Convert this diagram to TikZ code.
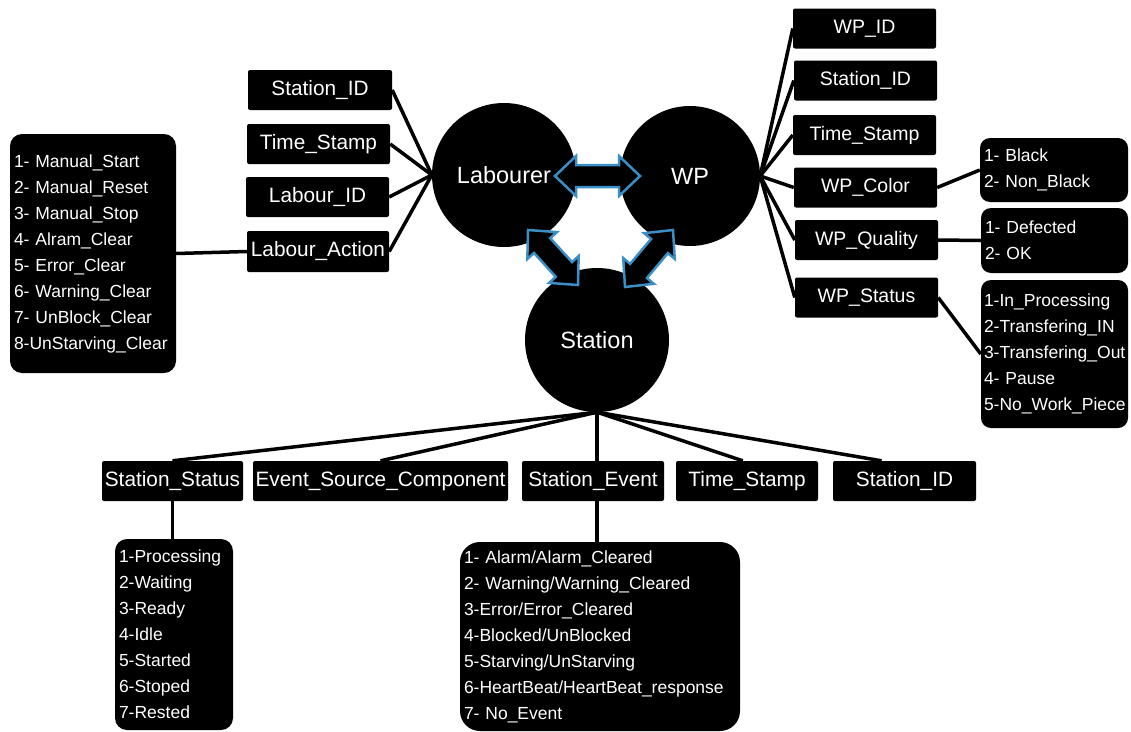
\documentclass[tikz,border=0pt]{standalone}
\usepackage{fontspec}
\setmainfont{Liberation Sans}
\usetikzlibrary{calc}
\definecolor{linkblue}{HTML}{3A8FC7}

% list text: fixed leading, no line breaks at hyphens
\newcommand{\listtext}{\fontsize{17.5}{26}\selectfont}
\newcommand{\keeplines}{\exhyphenpenalty=10000\relax\hyphenpenalty=10000\relax}

% two-way block arrow between two named points
\newcommand{\twoway}[2]{%
  \path[twowaystyle] (#1)
    -- ($(#1)!21pt!(#2)!20pt!90:(#2)$)
    -- ($(#1)!21pt!(#2)!11pt!90:(#2)$)
    -- ($(#2)!21pt!(#1)!11pt!-90:(#1)$)
    -- ($(#2)!21pt!(#1)!20pt!-90:(#1)$)
    -- (#2)
    -- ($(#2)!21pt!(#1)!20pt!90:(#1)$)
    -- ($(#2)!21pt!(#1)!11pt!90:(#1)$)
    -- ($(#1)!21pt!(#2)!11pt!-90:(#2)$)
    -- ($(#1)!21pt!(#2)!20pt!-90:(#2)$)
    -- cycle;}

\tikzset{
  attr/.style={fill=black, text=white, rounded corners=2pt, minimum height=40,
    inner sep=0pt, font=\fontsize{20.8}{23}\selectfont},
  wpattr/.style={attr, font=\fontsize{19.5}{22}\selectfont},
  valuelist/.style={fill=black, text=white, align=left, inner xsep=4, inner ysep=0,
    font=\listtext, execute at begin node=\keeplines},
  entity/.style={circle, fill=black, text=white, inner sep=0pt,
    font=\fontsize{23.5}{26}\selectfont},
  link/.style={line width=3.5pt, black},
  twowaystyle/.style={fill=black, draw=linkblue, line width=2.5pt, line join=miter}
}

\begin{document}
\begin{tikzpicture}[x=1pt, y=-1pt]
\useasboundingbox (0,0) rectangle (1131,731);

% entities
\node[entity, minimum size=144] (lab) at (504,175) {Labourer};
\node[entity, minimum size=140] (wp)  at (690,176) {WP};
\node[entity, minimum size=144] (sta) at (597,340) {Station};

% labourer attributes
\node[attr, minimum width=144] (lsid) at (320,90)    {Station\_ID};
\node[attr, minimum width=143] (lts)  at (318.5,144) {Time\_Stamp};
\node[attr, minimum width=143] (lid)  at (317.5,197) {Labour\_ID};
\node[attr, minimum width=142, minimum height=41] (lact) at (318,251.5) {Labour\_Action};
\node[valuelist, text width=158, minimum width=166, minimum height=239, rounded corners=12]
  (lactlist) at (93,253.5)
  {1- Manual\_Start\\2- Manual\_Reset\\3- Manual\_Stop\\4- Alram\_Clear\\5- Error\_Clear\\6- Warning\_Clear\\7- UnBlock\_Clear\\8-UnStarving\_Clear};

% work piece attributes
\node[wpattr, minimum width=143] (wid)  at (864.5,28.5)  {WP\_ID};
\node[wpattr, minimum width=143] (wsid) at (865.5,80.5)  {Station\_ID};
\node[wpattr, minimum width=143] (wts)  at (864.5,135)   {Time\_Stamp};
\node[wpattr, minimum width=143] (wcol) at (865.5,187.5) {WP\_Color};
\node[wpattr, minimum width=143] (wqua) at (866.5,240)   {WP\_Quality};
\node[wpattr, minimum width=143] (wsta) at (866.5,297.5) {WP\_Status};
\node[valuelist, text width=140, minimum width=148, minimum height=64, rounded corners=10]
  (wcollist) at (1054,170) {1- Black\\2- Non\_Black};
\node[valuelist, text width=139, minimum width=147, minimum height=65, rounded corners=10]
  (wqualist) at (1054.5,240.5) {1- Defected\\2- OK};
\node[valuelist, inner xsep=3, text width=141, minimum width=147, minimum height=148, rounded corners=10]
  (wstalist) at (1054.5,354)
  {1-In\_Processing\\2-Transfering\_IN\\3-Transfering\_Out\\4- Pause\\5-No\_Work\_Piece};

% station attributes
\node[attr, minimum width=141] (sst)  at (172.5,481) {Station\_Status};
\node[attr, minimum width=255] (ssrc) at (380.5,481) {Event\_Source\_Component};
\node[attr, minimum width=142] (sev)  at (593,481)   {Station\_Event};
\node[attr, minimum width=142] (sts)  at (747,481)   {Time\_Stamp};
\node[attr, minimum width=143] (ssid) at (904.5,481) {Station\_ID};
\node[valuelist, text width=110, minimum width=118, minimum height=191, rounded corners=12]
  (sstlist) at (174,634.5)
  {1-Processing\\2-Waiting\\3-Ready\\4-Idle\\5-Started\\6-Stoped\\7-Rested};
\node[valuelist, text width=272, minimum width=280, minimum height=189, rounded corners=20]
  (sevlist) at (600,636.5)
  {1- Alarm/Alarm\_Cleared\\2- Warning/Warning\_Cleared\\3-Error/Error\_Cleared\\4-Blocked/UnBlocked\\5-Starving/UnStarving\\6-HeartBeat/HeartBeat\_response\\7- No\_Event};

% labourer links
\foreach \n in {lsid,lts,lid,lact} \draw[link] (\n.east) -- (lab.west);
\draw[link] (lactlist.east) -- (lact.west);

% work piece links
\foreach \n in {wid,wsid,wts,wcol,wqua,wsta} \draw[link] (wp.east) -- (\n.west);
\draw[link] (wcol.east) -- (wcollist.west);
\draw[link] (wqua.east) -- (wqualist.west);
\draw[link] (wsta.east) -- (wstalist.west);

% station links
\draw[link] (sta.south) -- (sst.north);
\draw[link] (sta.south) -- (ssrc.north);
\draw[link] (sta.south) -- (sta.south |- sev.north);
\draw[link] (sta.south) -- ($(sts.north west)!0.47!(sts.north east)$);
\draw[link] (sta.south) -- ($(ssid.north west)!0.34!(ssid.north east)$);
\draw[link] (sst.south) -- (sst.south |- sstlist.north);
\draw[link] (sta.south |- sev.south) -- (sta.south |- sevlist.north);

% two-way relations between entities
\coordinate (lw1) at (555,176);
\coordinate (lw2) at (640,176);
\coordinate (ls1) at (528,230);
\coordinate (ls2) at (578,285);
\coordinate (ws1) at (673,230);
\coordinate (ws2) at (625,287);
\twoway{lw1}{lw2}
\twoway{ls1}{ls2}
\twoway{ws1}{ws2}
\end{tikzpicture}
\end{document}
